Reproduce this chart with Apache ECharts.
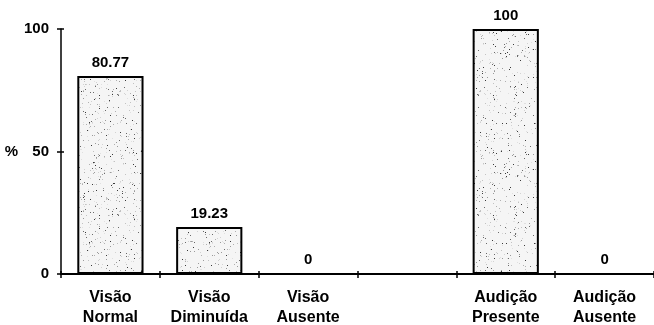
<!DOCTYPE html>
<html>
<head>
<meta charset="utf-8">
<script src="https://cdn.jsdelivr.net/npm/echarts@6/dist/echarts.min.js"></script>
<style>
  html, body { margin: 0; padding: 0; background: #fff; }
  #chart { width: 654px; height: 325px; }
</style>
</head>
<body>
<div id="chart"></div>
<script>
// Categories (the empty slot separates the vision group from the hearing group)
const categories = ['Visão\nNormal', 'Visão\nDiminuída', 'Visão\nAusente', '', 'Audição\nPresente', 'Audição\nAusente'];
// Percentages per category; null leaves the spacer slot empty
const percentValues = [80.77, 19.23, 0, null, 100, 0];
// Value-axis tick settings
const yMin = 0;
const yMax = 100;
const yStep = 50;

const FONT = '"Liberation Sans", Arial, sans-serif';

// Stippled fill: near-white ground sprinkled with grey specks (deterministic LCG)
function makeStipple() {
  const size = 120;
  const c = document.createElement('canvas');
  c.width = size; c.height = size;
  const ctx = c.getContext('2d');
  ctx.fillStyle = '#f5f5f5';
  ctx.fillRect(0, 0, size, size);
  let seed = 12345;
  const rnd = () => { seed = (seed * 1103515245 + 12345) & 0x7fffffff; return seed / 0x7fffffff; };
  const shades = ['#e0e0e0', '#d2d2d2', '#c2c2c2', '#b0b0b0', '#9a9a9a', '#6a6a6a', '#3a3a3a'];
  for (let i = 0; i < 700; i++) {
    const x = Math.floor(rnd() * size);
    const y = Math.floor(rnd() * size);
    ctx.fillStyle = shades[Math.floor(rnd() * shades.length)];
    ctx.fillRect(x, y, 1, 1);
  }
  return c;
}

const chart = echarts.init(document.getElementById('chart'), null, { renderer: 'canvas' });

const labelStyle = { color: '#000', fontFamily: FONT, fontWeight: 'bold' };

chart.setOption({
  animation: false,
  backgroundColor: '#fff',
  grid: { left: 61, right: 0, top: 29, bottom: 51, containLabel: false, outerBoundsMode: 'none' },
  xAxis: [
    {
      type: 'category',
      data: categories,
      boundaryGap: true,
      axisLine: { lineStyle: { color: '#000', width: 2 } },
      axisTick: { show: true, interval: 0, inside: false, length: 4, lineStyle: { color: '#000', width: 1.5 } },
      axisLabel: Object.assign({ interval: 0, fontSize: 16, lineHeight: 20, margin: 14 }, labelStyle),
      splitLine: { show: false }
    },
    {
      type: 'category',
      data: categories,
      position: 'bottom',
      boundaryGap: true,
      axisLine: { show: false },
      axisTick: { show: true, interval: 0, inside: true, length: 3, lineStyle: { color: '#000', width: 1.5 } },
      axisLabel: { show: false },
      splitLine: { show: false }
    }
  ],
  yAxis: [
    {
      type: 'value',
      min: yMin, max: yMax, interval: yStep,
      name: '%',
      nameLocation: 'middle',
      nameRotate: 0,
      nameGap: 42,
      nameTextStyle: Object.assign({ fontSize: 15 }, labelStyle),
      axisLine: { show: true, lineStyle: { color: '#000', width: 1.5 } },
      axisTick: { show: true, inside: false, length: 4, lineStyle: { color: '#000', width: 1.5 } },
      axisLabel: Object.assign({ fontSize: 15, margin: 12 }, labelStyle),
      splitLine: { show: false }
    },
    {
      type: 'value',
      min: yMin, max: yMax, interval: yStep,
      position: 'left',
      axisLine: { show: false },
      axisTick: { show: true, inside: true, length: 3, lineStyle: { color: '#000', width: 1.5 } },
      axisLabel: { show: false },
      splitLine: { show: false }
    }
  ],
  series: [
    {
      type: 'bar',
      data: percentValues,
      barWidth: '67%',
      itemStyle: {
        color: { image: makeStipple(), repeat: 'repeat' },
        borderColor: '#000',
        borderWidth: 2
      },
      label: Object.assign({
        show: true,
        position: 'top',
        distance: 6,
        fontSize: 15,
        formatter: p => (p.value === null || p.value === undefined) ? '' : String(p.value)
      }, labelStyle),
      z: 3
    }
  ]
});
</script>
</body>
</html>
